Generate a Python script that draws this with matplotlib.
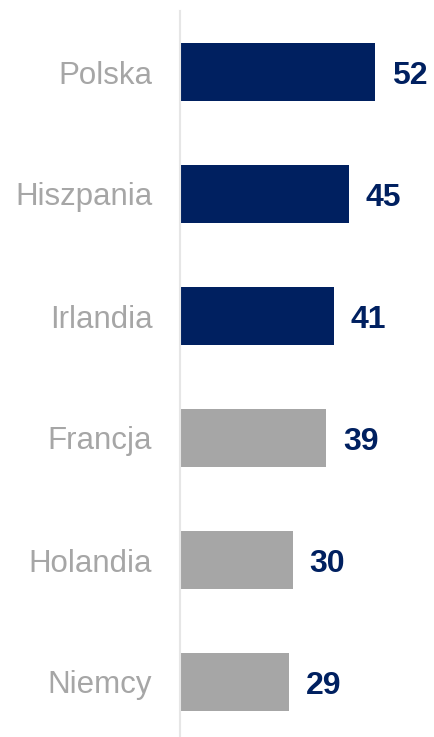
import matplotlib.pyplot as plt

countries = ['Polska', 'Hiszpania', 'Irlandia', 'Francja', 'Holandia', 'Niemcy']
values = [52, 45, 41, 39, 30, 29]
highlight = [True, True, True, False, False, False]

navy = '#002060'
grey = '#a6a6a6'

plt.rcParams['font.family'] = ['Liberation Sans', 'DejaVu Sans']

fig = plt.figure(figsize=(4.34, 7.37), dpi=100)
ax = fig.add_axes([0.415, 0.0, 0.585, 726 / 737])

colors = [navy if h else grey for h in highlight]
ypos = list(range(len(countries)))
ax.barh(ypos, values, height=0.475, color=colors)

for y, v in zip(ypos, values):
    ax.text(v + 4.5, y, str(v), va='center_baseline', ha='left', fontsize=23,
            fontweight='bold', color=navy)

ax.set_xlim(0, 254 / 3.75)
ax.set_ylim(-0.5 + 726 / 122, -0.5)
ax.set_yticks(ypos)
ax.set_yticklabels(countries, fontsize=22.5, color='#a6a6a6')
ax.tick_params(axis='y', length=0, pad=20)
ax.set_xticks([])

for side in ['top', 'right', 'bottom']:
    ax.spines[side].set_visible(False)
ax.spines['left'].set_color('#e6e6e6')
ax.spines['left'].set_linewidth(1.5)

fig.savefig('out.png', dpi=100)
